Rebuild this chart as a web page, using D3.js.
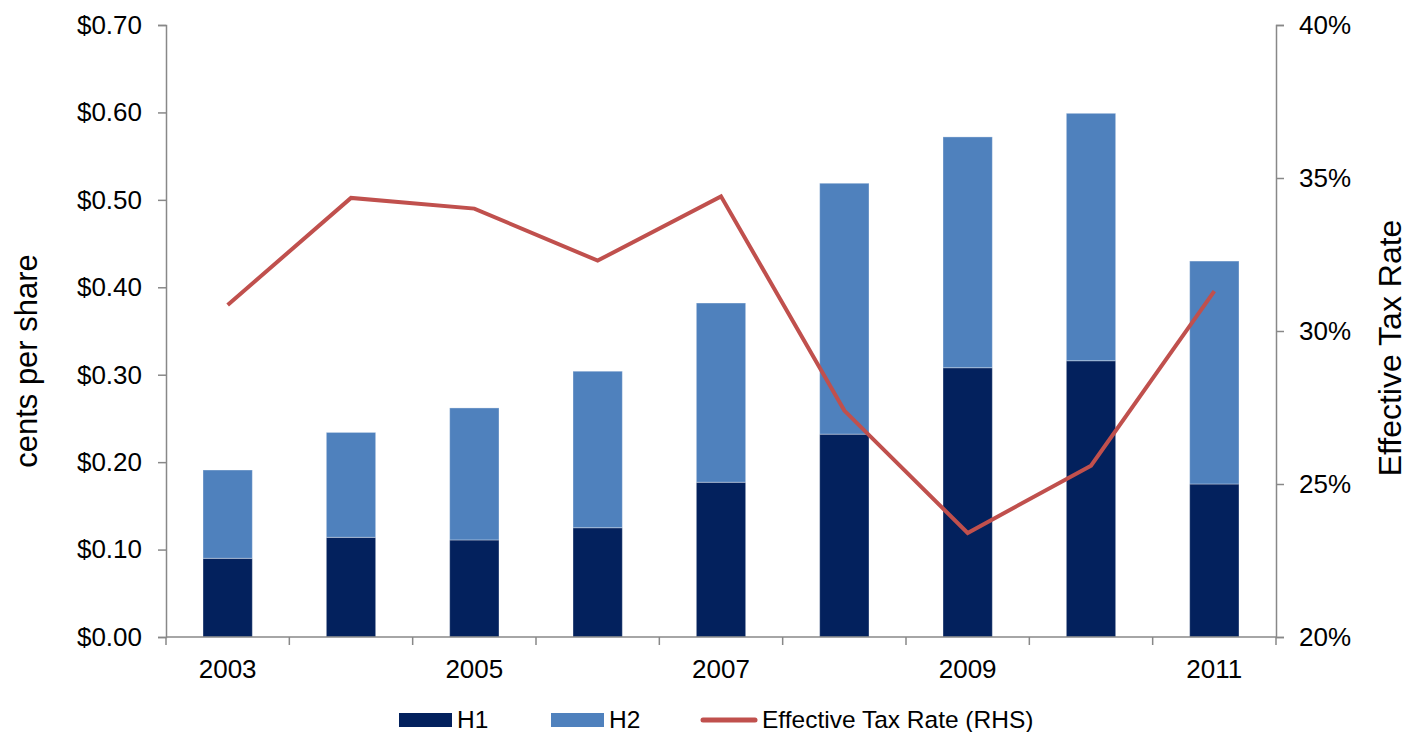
<!DOCTYPE html>
<html>
<head>
<meta charset="utf-8">
<script src="https://cdn.jsdelivr.net/npm/d3@7"></script>
<style>
  html, body { margin: 0; padding: 0; background: #fff; }
  svg { display: block; font-family: "Liberation Sans", Arial, sans-serif; }
</style>
</head>
<body>
<svg id="chart" width="1409" height="732"></svg>
<script>
// Half-year dividends per share and the effective tax rate
const years = ["2003", "2004", "2005", "2006", "2007", "2008", "2009", "2010", "2011"];
const h1 = [0.090, 0.114, 0.111, 0.125, 0.177, 0.232, 0.308, 0.316, 0.175];
const h2 = [0.101, 0.120, 0.151, 0.179, 0.205, 0.287, 0.264, 0.283, 0.255];
const taxRate = [0.3085, 0.3435, 0.340, 0.323, 0.344, 0.274, 0.234, 0.256, 0.313];
const yearLabels = ["2003", "2005", "2007", "2009", "2011"];
const leftTicks = [0, 0.1, 0.2, 0.3, 0.4, 0.5, 0.6, 0.7];
const rightTicks = [0.20, 0.25, 0.30, 0.35, 0.40];

const colH1 = "#03215D";
const colH2 = "#4F81BD";
const colLine = "#C0504D";
const axisCol = "#888888";

const svg = d3.select("#chart");
const plotLeft = 166, plotRight = 1276, plotTop = 25, plotBottom = 637;

const x = d3.scaleBand().domain(years).range([plotLeft, plotRight])
  .paddingInner(0.6).paddingOuter(0.3);
const y = d3.scaleLinear().domain([0, 0.7]).range([plotBottom, plotTop]);
const y2 = d3.scaleLinear().domain([0.2, 0.4]).range([plotBottom, plotTop]);

const rows = years.map((yr, i) => ({ year: yr, h1: h1[i], h2: h2[i], rate: taxRate[i] }));
const stacked = d3.stack().keys(["h1", "h2"])(rows);
const colours = { h1: colH1, h2: colH2 };

// Stacked bars
svg.append("g").selectAll("g").data(stacked).join("g")
  .attr("fill", d => colours[d.key])
  .selectAll("rect").data(d => d).join("rect")
  .attr("x", d => x(d.data.year))
  .attr("width", x.bandwidth())
  .attr("y", d => y(d[1]))
  .attr("height", d => y(d[0]) - y(d[1]))
  .attr("stroke", "#ffffff")
  .attr("stroke-opacity", 0.35)
  .attr("stroke-width", 1);

// Left axis
const leftAxis = d3.axisLeft(y).tickValues(leftTicks).tickFormat(d3.format("$.2f"))
  .tickSize(8).tickPadding(16);
const gl = svg.append("g").attr("transform", `translate(${plotLeft},0)`).call(leftAxis);

// Right axis
const rightAxis = d3.axisRight(y2).tickValues(rightTicks).tickFormat(d3.format(".0%"))
  .tickSize(8).tickPadding(15);
const gr = svg.append("g").attr("transform", `translate(${plotRight},0)`).call(rightAxis);

[gl, gr].forEach(g => {
  g.select(".domain").attr("stroke", axisCol).attr("stroke-width", 1.5);
  g.selectAll(".tick line").attr("stroke", axisCol).attr("stroke-width", 1.5);
  g.selectAll(".tick text").attr("fill", "#000").style("font-size", "26px")
    .style("font-family", "'Liberation Sans', Arial, sans-serif");
});

// Category axis: baseline, boundary ticks and alternate year labels
const step = x.step();
const gap = step - x.bandwidth();
const bounds = years.map(yr => x(yr) - gap / 2).concat([x(years[years.length - 1]) + x.bandwidth() + gap / 2]);
const gx = svg.append("g");
gx.append("line").attr("x1", plotLeft).attr("x2", plotRight).attr("y1", plotBottom).attr("y2", plotBottom)
  .attr("stroke", axisCol).attr("stroke-width", 1.5);
gx.selectAll("line.tk").data(bounds).join("line").attr("class", "tk")
  .attr("x1", d => d).attr("x2", d => d).attr("y1", plotBottom).attr("y2", plotBottom + 8)
  .attr("stroke", axisCol).attr("stroke-width", 1.5);
gx.selectAll("text").data(yearLabels).join("text")
  .attr("x", d => x(d) + x.bandwidth() / 2)
  .attr("y", 678)
  .attr("text-anchor", "middle")
  .style("font-size", "26px")
  .text(d => d);

// Effective tax rate line on the right-hand scale
const line = d3.line().x(d => x(d.year) + x.bandwidth() / 2).y(d => y2(d.rate));
svg.append("path").datum(rows)
  .attr("d", line)
  .attr("fill", "none")
  .attr("stroke", colLine)
  .attr("stroke-width", 4);

// Axis titles
svg.append("text")
  .attr("transform", "translate(37,361) rotate(-90)")
  .attr("text-anchor", "middle")
  .style("font-size", "31px")
  .text("cents per share");
svg.append("text")
  .attr("transform", "translate(1401,348) rotate(-90)")
  .attr("text-anchor", "middle")
  .style("font-size", "32px")
  .text("Effective Tax Rate");

// Legend
const legend = svg.append("g");
const items = [
  { label: "H1", type: "rect", color: colH1, x: 399 },
  { label: "H2", type: "rect", color: colH2, x: 551 },
  { label: "Effective Tax Rate (RHS)", type: "line", color: colLine, x: 701 }
];
items.forEach(it => {
  const g = legend.append("g");
  if (it.type === "rect") {
    g.append("rect").attr("x", it.x).attr("y", 713).attr("width", 53).attr("height", 14).attr("fill", it.color);
    g.append("text").attr("x", it.x + 58).attr("y", 728).style("font-size", "24.5px").text(it.label);
  } else {
    g.append("line").attr("x1", it.x + 2).attr("x2", it.x + 54).attr("y1", 720).attr("y2", 720)
      .attr("stroke", it.color).attr("stroke-width", 5).attr("stroke-linecap", "round");
    g.append("text").attr("x", it.x + 61).attr("y", 728).style("font-size", "24.5px").text(it.label);
  }
});
</script>
</body>
</html>
